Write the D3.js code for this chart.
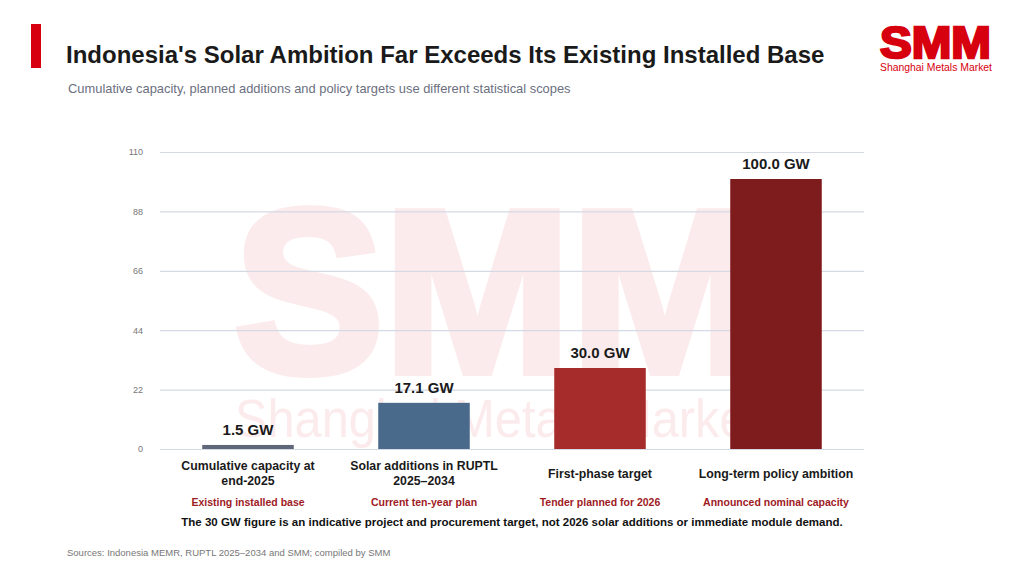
<!DOCTYPE html>
<html>
<head>
<meta charset="utf-8">
<script src="https://cdn.jsdelivr.net/npm/d3@7"></script>
<style>
  html, body { margin: 0; padding: 0; background: #fff; }
  svg { display: block; font-family: "Liberation Sans", Arial, sans-serif; }
</style>
</head>
<body>
<svg id="chart" width="1024" height="576"></svg>
<script>
const categories = [
  ["Cumulative capacity at", "end-2025"],
  ["Solar additions in RUPTL", "2025\u20132034"],
  ["First-phase target"],
  ["Long-term policy ambition"]
];
const subLabels = [
  "Existing installed base",
  "Current ten-year plan",
  "Tender planned for 2026",
  "Announced nominal capacity"
];
const values = [1.5, 17.1, 30.0, 100.0];
const barColors = ["#5f6878", "#4a6a8b", "#a62c2c", "#7e1b1d"];
const yTicks = [0, 22, 44, 66, 88, 110];

const svg = d3.select("#chart");
const margin = { top: 152, right: 160, bottom: 127, left: 160 },
  width = 1024 - margin.left - margin.right,
  height = 576 - margin.top - margin.bottom;

// header
svg.append("rect").attr("x", 31).attr("y", 24).attr("width", 10).attr("height", 44).attr("fill", "#d7000f");
svg.append("text").attr("x", 66).attr("y", 63)
  .attr("font-size", 24).attr("font-weight", "bold").attr("fill", "#1a1a1a")
  .text("Indonesia's Solar Ambition Far Exceeds Its Existing Installed Base");
svg.append("text").attr("x", 68).attr("y", 93)
  .attr("font-size", 12.9).attr("fill", "#6b6f80")
  .text("Cumulative capacity, planned additions and policy targets use different statistical scopes");

// logo
svg.append("text").attr("x", 880).attr("y", 58)
  .attr("font-size", 44).attr("font-weight", "bold").attr("fill", "#d7000f")
  .attr("stroke", "#d7000f").attr("stroke-width", 2.5)
  .attr("textLength", 111).attr("lengthAdjust", "spacingAndGlyphs")
  .text("SMM");
svg.append("text").attr("x", 880).attr("y", 71)
  .attr("font-size", 11).attr("fill", "#d7000f")
  .attr("textLength", 112).attr("lengthAdjust", "spacingAndGlyphs")
  .text("Shanghai Metals Market");

// watermark
const wm = svg.append("g").attr("fill", "#fcebec");
wm.append("text").attr("x", 234).attr("y", 372)
  .attr("font-size", 232).attr("font-weight", "bold")
  .attr("stroke", "#fcebec").attr("stroke-width", 8)
  .attr("textLength", 524).attr("lengthAdjust", "spacingAndGlyphs")
  .text("SMM");
wm.append("text").attr("x", 235).attr("y", 437)
  .attr("font-size", 54)
  .attr("textLength", 525).attr("lengthAdjust", "spacingAndGlyphs")
  .text("Shanghai Metals Market");

const g = svg.append("g").attr("transform", `translate(${margin.left},${margin.top})`);

const x = d3.scaleBand()
  .domain(d3.range(values.length))
  .range([0, width])
  .paddingInner(0.48)
  .paddingOuter(0.24);
const y = d3.scaleLinear().domain([0, 110]).range([height, 0]);

// grid + y axis
const yAxis = g.append("g")
  .call(d3.axisLeft(y).tickValues(yTicks).tickSize(-width).tickPadding(17));
yAxis.select(".domain").remove();
yAxis.selectAll(".tick line").attr("stroke", "#d5d9e3").attr("stroke-width", 1.2);
yAxis.selectAll(".tick text").attr("fill", "#777").attr("font-size", 9)
  .attr("font-family", "Liberation Sans, Arial, sans-serif");

// bars
g.selectAll(".bar")
  .data(values)
  .enter()
  .append("rect")
  .attr("class", "bar")
  .attr("x", (d, i) => x(i))
  .attr("y", d => y(d))
  .attr("width", x.bandwidth())
  .attr("height", d => height - y(d))
  .attr("fill", (d, i) => barColors[i]);

// value labels
g.selectAll(".val")
  .data(values)
  .enter()
  .append("text")
  .attr("class", "val")
  .attr("x", (d, i) => x(i) + x.bandwidth() / 2)
  .attr("y", d => y(d) - 10)
  .attr("text-anchor", "middle")
  .attr("font-size", 15)
  .attr("font-weight", "bold")
  .attr("fill", "#1a1a1a")
  .text(d => d.toFixed(1) + " GW");

// category labels
const cat = g.selectAll(".cat")
  .data(categories)
  .enter()
  .append("text")
  .attr("class", "cat")
  .attr("text-anchor", "middle")
  .attr("font-size", 12.3)
  .attr("font-weight", "bold")
  .attr("fill", "#1a1a1a");
cat.each(function(lines, i) {
  const t = d3.select(this);
  const cx = x(i) + x.bandwidth() / 2;
  const y0 = lines.length > 1 ? height + 21 : height + 29;
  lines.forEach((l, j) => {
    t.append("tspan").attr("x", cx).attr("y", y0 + j * 15).text(l);
  });
});

g.selectAll(".sub")
  .data(subLabels)
  .enter()
  .append("text")
  .attr("class", "sub")
  .attr("x", (d, i) => x(i) + x.bandwidth() / 2)
  .attr("y", height + 57)
  .attr("text-anchor", "middle")
  .attr("font-size", 10.5)
  .attr("font-weight", "bold")
  .attr("fill", "#9e1b1f")
  .text(d => d);

svg.append("text").attr("x", 512).attr("y", 526)
  .attr("text-anchor", "middle")
  .attr("font-size", 11.5).attr("font-weight", "bold").attr("fill", "#111")
  .text("The 30 GW figure is an indicative project and procurement target, not 2026 solar additions or immediate module demand.");

svg.append("text").attr("x", 67).attr("y", 556)
  .attr("font-size", 9.5).attr("fill", "#777")
  .text("Sources: Indonesia MEMR, RUPTL 2025\u20132034 and SMM; compiled by SMM");
</script>
</body>
</html>
